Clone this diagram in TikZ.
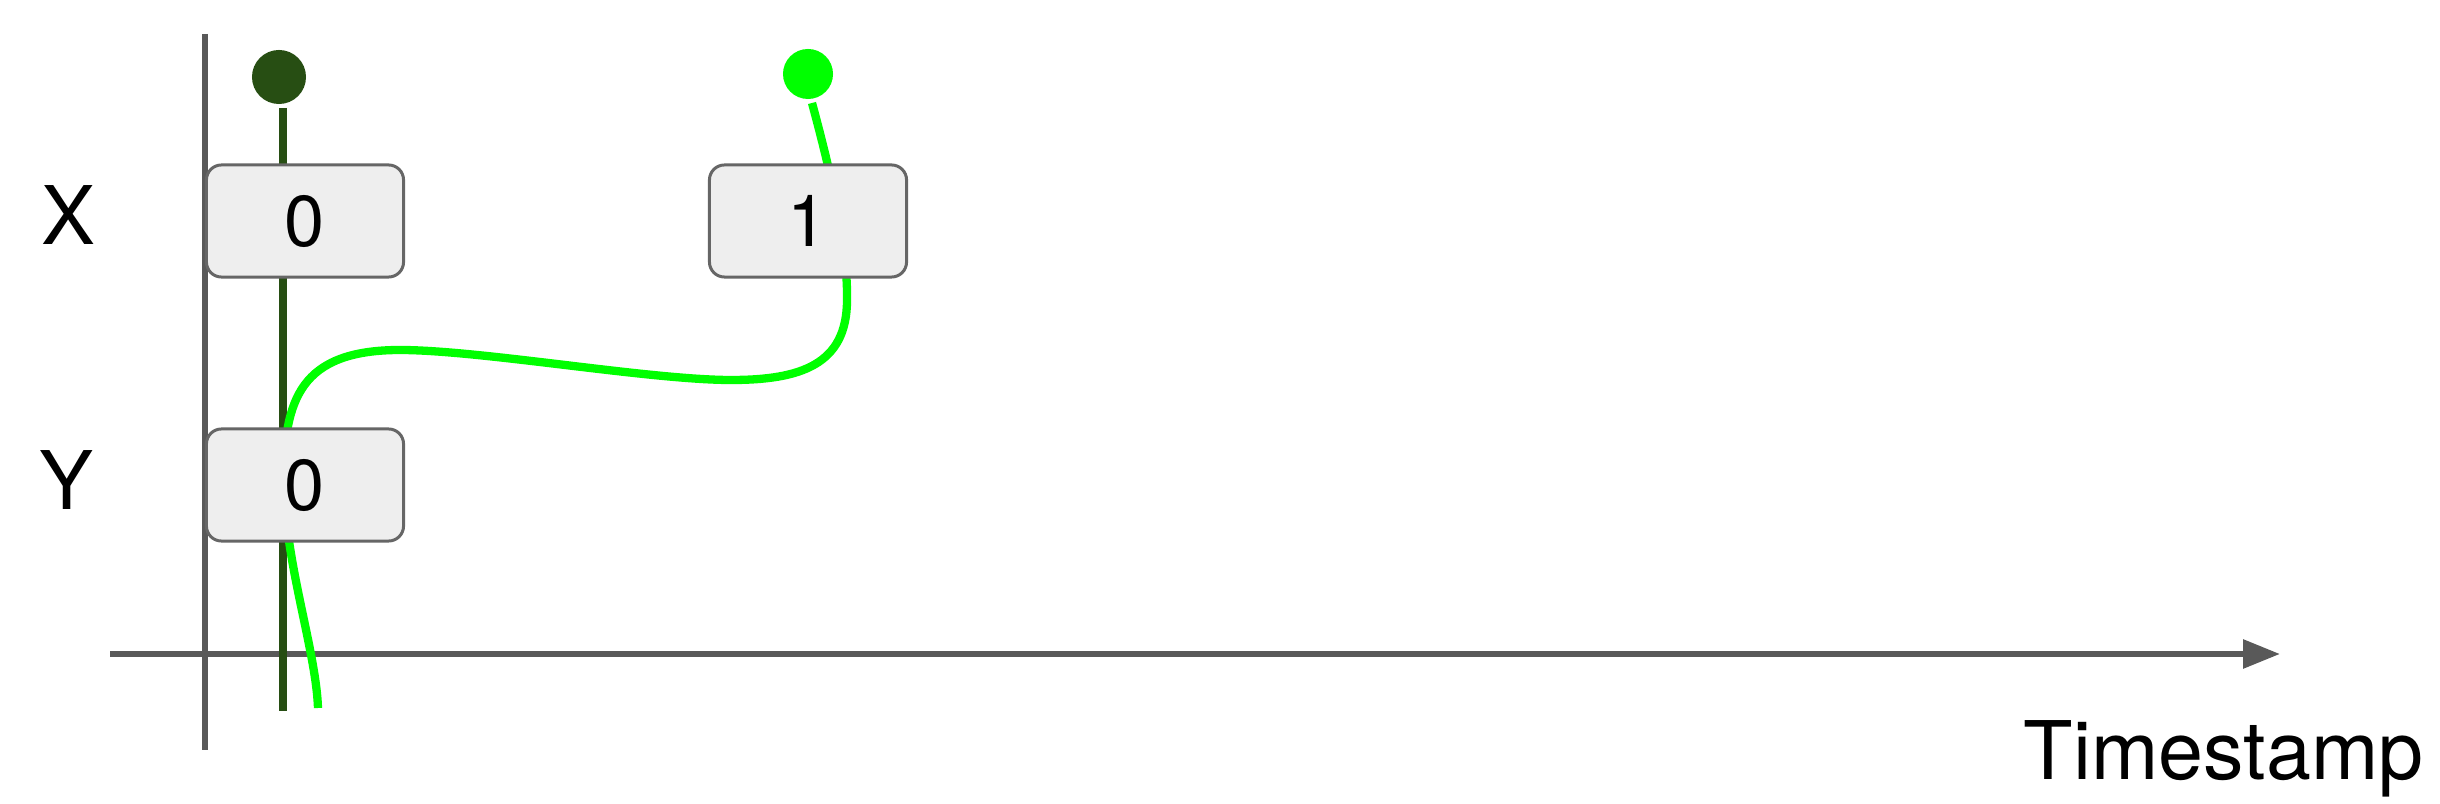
\documentclass[tikz,border=0pt]{standalone}
\usepackage{fontspec}
\setmainfont{TeX Gyre Heros}
\usetikzlibrary{arrows.meta,backgrounds}
\definecolor{axisgray}{HTML}{595959}
\definecolor{darkg}{HTML}{274E13}
\definecolor{brightg}{HTML}{00FF00}
\definecolor{boxfill}{HTML}{EEEEEE}
\definecolor{boxline}{HTML}{666666}
\begin{document}
\begin{tikzpicture}[x=0.01cm,y=-0.01cm,
  valbox/.style={draw=boxline,fill=boxfill,line width=0.85pt,rounded corners=0.15cm,
    minimum width=1.97cm,minimum height=1.12cm,inner sep=0pt,font=\fontsize{20.5}{24}\selectfont},
  lbl/.style={font=\fontsize{23}{27}\selectfont,inner sep=0pt},
  dotnode/.style={circle,inner sep=0pt,minimum size=#1},
  axisline/.style={draw=axisgray,line width=1.7pt},
  darkline/.style={draw=darkg,line width=2.36pt},
  brightline/.style={draw=brightg,line width=2.36pt}]
\useasboundingbox (0,0) rectangle (2440,804);
% value boxes
\node[valbox] (x0) at (305,221) {0};
\node[valbox] (x1) at (808,221) {1};
\node[valbox] (y0) at (305,485) {0};
% labels
\node[lbl] (lx) at (68,215) {X};
\node[lbl] (ly) at (66,480) {Y};
\node[lbl,anchor=base west] (ts) at (2023,780) {Timestamp};
% dots
\node[dotnode=0.54cm,fill=darkg] (dd) at (279,77) {};
\node[dotnode=0.50cm,fill=brightg] (bd) at (808,74) {};
% axes and lines
\coordinate (vtop) at (205,34);
\coordinate (vbot) at (205,750);
\coordinate (hl) at (110,654);
\coordinate (hr) at (2280,654);
\coordinate (dtop) at (283,108);
\coordinate (dbot) at (283,711);
\coordinate (b0) at (812,103);
\coordinate (b1) at (847,300);
\coordinate (b2) at (731,380);
\coordinate (b3) at (400,350);
\coordinate (b4) at (284,480);
\coordinate (b5) at (318,708);
\begin{scope}[on background layer]
\draw[axisline] (vtop) -- (vbot);
\draw[axisline,-{Triangle[length=0.37cm,width=0.28cm]}] (hl) -- (hr);
\draw[darkline] (dtop) -- (dbot);
\draw[brightline] (b0) .. controls (826,155) and (848,240) .. (b1)
  .. controls (847,365) and (800,380) .. (b2)
  .. controls (650,380) and (480,350) .. (b3)
  .. controls (300,350) and (284,400) .. (b4)
  .. controls (284,560) and (316,650) .. (b5);
\end{scope}
\end{tikzpicture}
\end{document}
